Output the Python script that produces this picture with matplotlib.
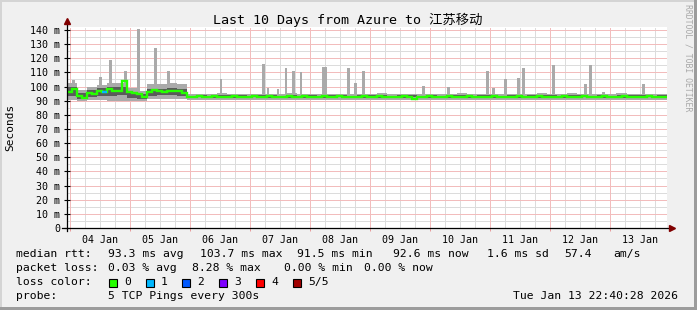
import numpy as np
import matplotlib
matplotlib.use("Agg")
import matplotlib.pyplot as plt
from matplotlib.patches import Rectangle

plt.rcParams['font.family'] = ['DejaVu Sans Mono', 'Noto Sans CJK SC']

# time axis: hours since Jan 3 22:48 (10 days shown)
first_midnight = 1.2
day_labels = ['04 Jan', '05 Jan', '06 Jan', '07 Jan', '08 Jan',
              '09 Jan', '10 Jan', '11 Jan', '12 Jan', '13 Jan']

# median rtt in ms, 2 hour bins
median_ms = [
    96.5, 98.5, 93.4, 92.2, 95.7, 95.0, 96.9, 96.2, 98.3, 96.9, 96.9, 103.7,
    96.4, 95.5, 94.8, 92.9, 96.4, 97.6, 96.8, 96.4, 97.0, 97.1, 96.8, 95.2,
    92.9, 92.7, 93.0, 92.8, 92.6, 93.1, 92.9, 92.7, 92.9, 93.2, 92.8, 92.6,
    92.9, 93.0, 92.7, 92.8, 93.1, 92.9, 92.6, 92.8, 93.0, 92.9, 92.7, 93.1,
    92.8, 92.6, 92.9, 93.0, 92.8, 92.7, 93.2, 92.9, 92.8, 92.6, 92.9, 93.0,
    92.7, 92.9, 93.1, 92.8, 92.6, 92.9, 92.8, 93.0, 92.7, 91.5, 92.8, 92.9,
    93.0, 92.8, 92.7, 92.9, 93.1, 92.8, 92.6, 92.9, 93.0, 92.8, 92.7, 92.9,
    92.8, 93.0, 92.9, 92.7, 92.6, 92.9, 93.1, 92.8, 92.9, 92.7, 93.0, 92.8,
    92.9, 92.7, 92.8, 93.0, 92.9, 92.6, 92.8, 93.1, 92.9, 92.8, 92.7, 93.0,
    92.8, 92.9, 92.7, 93.0, 92.8, 92.9, 92.6, 92.8, 93.0, 92.9, 92.7, 92.6,
]
loss_bins = [7]   # bins with 1 of 5 pings lost

# smoke (ping spread) in ms, 4 hour bins
outer_lo = [
    90.5, 89.5, 90.5, 90.5, 90.0, 90.0, 89.5, 89.5, 91.0, 91.5, 91.5, 91.0,
    90.6, 90.4, 90.8, 90.5, 90.3, 90.7, 90.5, 90.2, 90.6, 90.4, 90.8, 90.5,
    90.3, 90.6, 90.5, 90.7, 90.4, 90.6, 90.5, 90.3, 90.6, 90.8, 90.4, 90.5,
    90.7, 90.4, 90.5, 90.3, 90.6, 90.5, 90.4, 90.6, 90.8, 90.5, 90.3, 90.6,
    90.5, 90.7, 90.4, 90.6, 90.5, 90.3, 90.6, 90.4, 90.5, 90.7, 90.5, 90.6,
]
outer_hi = [
    102.5, 97.5, 99.5, 101.0, 102.5, 102.5, 99.0, 97.0, 102.0, 102.0, 102.5, 101.5,
    94.6, 94.9, 94.5, 95.1, 94.7, 94.8, 95.0, 94.6, 94.8, 94.5, 95.2, 94.7,
    94.9, 94.6, 95.0, 94.8, 94.5, 94.9, 94.7, 95.1, 94.6, 94.8, 95.0, 94.6,
    94.8, 94.5, 94.9, 95.2, 94.7, 94.8, 95.0, 94.6, 94.8, 94.9, 94.5, 95.1,
    94.7, 94.9, 95.3, 94.6, 94.8, 95.0, 94.6, 95.2, 94.8, 94.7, 94.9, 94.6,
]
inner_lo = [
    93.0, 91.5, 92.5, 93.5, 93.5, 94.0, 92.0, 91.0, 93.5, 94.0, 94.0, 93.0,
    91.9, 92.3, 91.8, 92.2, 92.0, 91.7, 92.3, 91.9, 92.1, 91.8, 92.2, 92.0,
    91.8, 92.2, 91.9, 92.3, 91.8, 92.1, 92.0, 91.7, 92.2, 91.9, 92.3, 91.8,
    92.1, 91.9, 92.2, 91.8, 92.0, 92.3, 91.8, 92.1, 91.9, 92.2, 91.7, 92.0,
    92.2, 91.8, 92.0, 92.3, 91.9, 92.1, 91.8, 92.2, 91.9, 92.0, 92.3, 91.8,
]
inner_hi = [
    99.5, 95.5, 97.5, 99.0, 99.5, 100.0, 96.5, 95.0, 98.5, 98.5, 99.0, 98.0,
    93.6, 94.0, 93.5, 93.9, 93.7, 94.2, 93.5, 93.8, 94.1, 93.6, 93.9, 93.5,
    94.0, 93.6, 93.8, 94.2, 93.5, 93.9, 93.7, 94.1, 93.6, 93.8, 94.0, 93.5,
    93.9, 93.6, 94.1, 93.7, 93.5, 94.0, 93.8, 93.6, 94.2, 93.5, 93.9, 93.7,
    94.0, 93.6, 93.8, 94.1, 93.5, 93.9, 93.6, 94.0, 93.7, 93.9, 93.5, 93.8,
]

# single slow pings (max ping spikes)
spike_hour = [2.7, 13.5, 17.5, 23.5, 28.5, 35.5, 40.5, 61.6, 78.5, 80.4, 84.4,
              87.6, 90.5, 93.6, 102.5, 103.4, 112.5, 115.5, 118.5, 142.5, 152.5,
              168.3, 170.5, 175.5, 180.5, 182.5, 194.5, 207.5, 209.5, 214.5,
              220.0, 230.5]
spike_ms = [104.7, 107, 119, 111, 141, 127, 111, 105, 116, 99, 98,
            113, 111, 110, 114, 113.5, 113, 102.5, 111, 100.5, 100,
            111, 99, 105, 106, 113, 115, 102, 115, 96,
            95.5, 102]

loss_names = ['0', '1', '2', '3', '4', '5/5']
loss_colors = ['#26ff00', '#00b8ff', '#0059ff', '#7e00ff', '#ff0000', '#a10000']

W, H = 697, 310
fig = plt.figure(figsize=(W / 100, H / 100), dpi=100, facecolor='#f0f0f0')
ax = fig.add_axes([67 / W, 82 / H, 600 / W, 201 / H])
ax.set_facecolor('white')
ax.set_xlim(0, 240)
ax.set_ylim(0, 142.1)
for s in ax.spines.values():
    s.set_visible(False)

# grid: 1px dotted
dots = (0, (1, 1))
minor_c, major_c = '#dcdcdc', '#f2bcbc'
for v in range(5, 141, 10):
    ax.axhline(v, color=minor_c, lw=0.72, ls=dots, antialiased=False, zorder=0.5)
for v in range(10, 141, 10):
    ax.axhline(v, color=major_c, lw=0.72, ls=dots, antialiased=False, zorder=0.6)
for k in range(40):
    h = first_midnight + 6 * k
    if h > 240:
        break
    if k % 4 == 0:
        ax.axvline(h, color=major_c, lw=0.72, ls=dots, antialiased=False, zorder=0.6)
    else:
        ax.axvline(h, color=minor_c, lw=0.72, ls=dots, antialiased=False, zorder=0.5)

# smoke
med_edges = np.arange(len(median_ms) + 1) * 2.0
smoke_edges = np.arange(len(outer_lo) + 1) * 4.0
ax.stairs(outer_hi, smoke_edges, baseline=outer_lo, fill=True,
          color='#aaaaaa', lw=0, zorder=2)
ax.bar(spike_hour, np.array(spike_ms) - 91, bottom=91, width=1.1,
       color='#aaaaaa', lw=0, zorder=2)
ax.stairs(inner_hi, smoke_edges, baseline=inner_lo, fill=True,
          color='#5a5a5a', lw=0, zorder=3)

# median line
ax.stairs(median_ms, med_edges, color=loss_colors[0], lw=1.7, zorder=4,
          baseline=None)
for b in loss_bins:
    ax.stairs([median_ms[b]], med_edges[b:b + 2], color=loss_colors[1],
              lw=1.7, zorder=5, baseline=None)

# axes lines + arrows
ax.plot([-0.008, 1.006], [0, 0], transform=ax.transAxes, color='black',
        lw=0.9, clip_on=False, zorder=6)
ax.plot([0, 0], [-0.015, 1.025], transform=ax.transAxes, color='black',
        lw=0.9, clip_on=False, zorder=6)
ax.plot([0], [1.03], marker='^', ms=4.5, color='#800000',
        transform=ax.transAxes, clip_on=False, zorder=7)
ax.plot([1.008], [0], marker='>', ms=4.5, color='#800000',
        transform=ax.transAxes, clip_on=False, zorder=7)

# ticks
yt = list(range(0, 141, 10))
ax.set_yticks(yt, ['0'] + ['%d m' % v for v in yt[1:]])
ax.tick_params(axis='y', direction='inout', length=4, width=0.8,
               labelsize=7.2, pad=3)
noon = [first_midnight + 12 + 24 * k for k in range(len(day_labels))]
ax.set_xticks(noon, day_labels)
ax.tick_params(axis='x', length=0, labelsize=7.2, pad=5)
ax.set_xticks([first_midnight + 24 * k for k in range(10)], minor=True)
ax.tick_params(axis='x', which='minor', direction='out', length=2.5,
               width=0.7, color='#e89a9a')

# titles
fig.text(348 / W, 1 - 20 / H, 'Last 10 Days from Azure to 江苏移动',
         ha='center', va='center', fontsize=9.6)
fig.text(10 / W, 1 - 127 / H, 'Seconds', rotation=90, ha='center',
         va='center', fontsize=8)
fig.text(688 / W, 1 - 58 / H, 'RRDTOOL / TOBI OETIKER', rotation=270,
         ha='center', va='center', fontsize=5.9, color='#a8a8a8')

# legend text
def put(x, y, s):
    fig.text(x / W, 1 - y / H, s, ha='left', va='center', fontsize=8.2)

put(16, 254, 'median rtt:')
put(107.6, 254, '93.3 ms avg')
put(200, 254, '103.7 ms max')
put(297, 254, '91.5 ms min')
put(393, 254, '92.6 ms now')
put(487, 254, '1.6 ms sd')
put(564, 254, '57.4')
put(613, 254, 'am/s')

put(16, 268, 'packet loss:')
put(107.6, 268, '0.03 % avg')
put(192, 268, '8.28 % max')
put(284, 268, '0.00 % min')
put(364, 268, '0.00 % now')

put(16, 282, 'loss color:')
box_x = [109, 146, 182, 219, 256, 293]
for bx, name, c in zip(box_x, loss_names, loss_colors):
    fig.patches.append(Rectangle((bx / W, 1 - 287 / H), 8 / W, 8 / H,
                                 transform=fig.transFigure, facecolor=c,
                                 edgecolor='black', lw=0.8))
    put(bx + 15, 282, name)

put(16, 296, 'probe:')
put(107.6, 296, '5 TCP Pings every 300s')
put(513, 296, 'Tue Jan 13 22:40:28 2026')

# frame shading
fig.patches.append(Rectangle((0, 1 - 2 / H), 1, 2 / H, transform=fig.transFigure,
                             facecolor='#d4d4d4', lw=0))
fig.patches.append(Rectangle((0, 0), 2 / W, 1, transform=fig.transFigure,
                             facecolor='#d4d4d4', lw=0))
fig.patches.append(Rectangle((1 - 3 / W, 0), 3 / W, 1, transform=fig.transFigure,
                             facecolor='#9c9c9c', lw=0))
fig.patches.append(Rectangle((0, 0), 1, 3 / H, transform=fig.transFigure,
                             facecolor='#9c9c9c', lw=0))

fig.savefig('out.png', dpi=100, facecolor=fig.get_facecolor())
